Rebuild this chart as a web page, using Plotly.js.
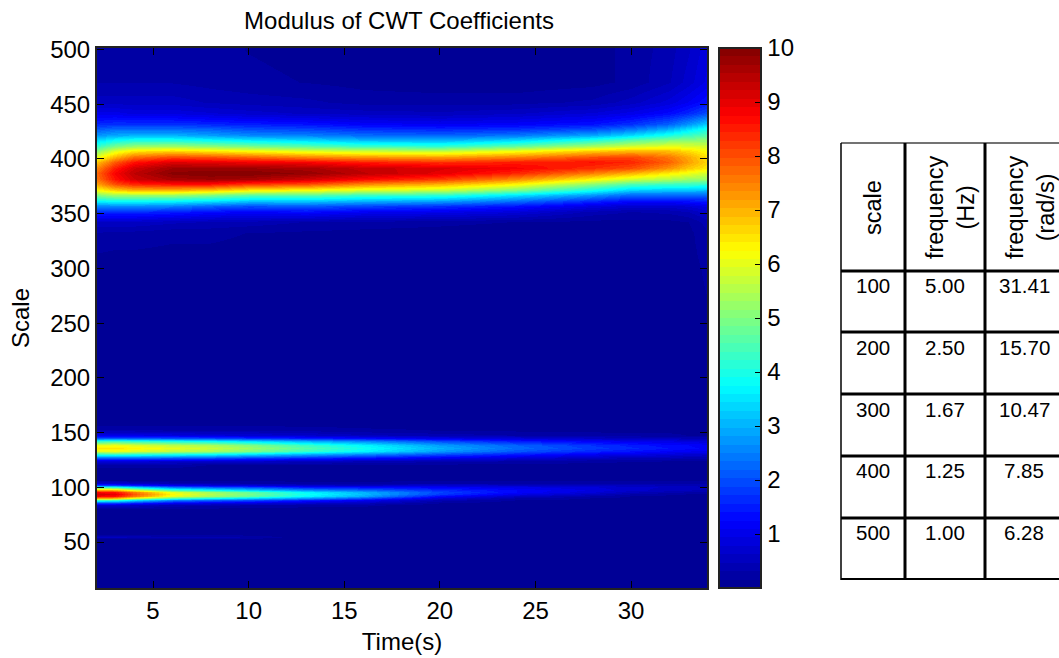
<!DOCTYPE html>
<html><head><meta charset="utf-8">
<script src="https://cdn.plot.ly/plotly-3.0.1.min.js"></script>
<style>html,body{margin:0;padding:0;background:#fff}#c{width:1059px;height:658px}</style>
</head><body><div id="c"></div>
<script>
const times = [2,3,4,6,8,10,13,16,20,24,28,30,32,33,34];
const scales = [8,50,53,55,57,70,80,84,86,88,90,92,94,96,98,100,102,104,107,112,120,124,127,130,133,136,139,142,145,148,152,158,200,300,332,342,352,357,362,367,372,377,382,387,392,397,402,407,412,417,422,427,432,442,452,470,500];
const modulus = [
[.05,.05,.05,.05,.05,.05,.05,.05,.05,.05,.05,.05,.05,.05,.05],
[.05,.05,.05,.05,.05,.05,.05,.05,.05,.05,.05,.05,.05,.05,.05],
[.08,.08,.08,.08,.08,.08,.05,.05,.05,.05,.05,.05,.05,.05,.05],
[.5,.5,.45,.4,.35,.3,.05,.05,.05,.05,.05,.05,.05,.05,.05],
[.08,.08,.08,.08,.08,.08,.05,.05,.05,.05,.05,.05,.05,.05,.05],
[.05,.05,.05,.05,.05,.05,.05,.05,.05,.05,.05,.05,.05,.05,.05],
[.15,.15,.15,.1,.1,.08,.05,.05,.05,.05,.05,.05,.05,.05,.05],
[.7,.7,.6,.4,.35,.3,.25,.2,.05,.05,.05,.05,.05,.05,.05],
[1.8,1.8,1.5,1.1,.9,.8,.65,.5,.15,.05,.05,.05,.05,.05,.05],
[4.3,4.2,3.5,2.5,2.2,2,1.5,1.1,.4,.15,.1,.05,.05,.05,.05],
[7.2,7,6,4.5,3.9,3.4,2.7,2,.8,.3,.15,.1,.05,.05,.05],
[8.8,8.6,7.6,6,5.3,4.7,3.7,2.9,1.3,.6,.3,.15,.1,.08,.05],
[9.2,9,7.9,6.3,5.5,4.9,3.9,3.1,1.8,1,.55,.3,.2,.15,.12],
[8.8,8.6,7.6,6,5.3,4.7,3.7,3,1.9,1.25,.8,.5,.35,.3,.25],
[7.2,7,6,4.5,3.9,3.4,2.7,2.3,1.65,1.25,.9,.68,.55,.48,.42],
[4.3,4.2,3.5,2.5,2.2,2,1.5,1.4,1.2,1,.8,.68,.6,.55,.5],
[1.8,1.8,1.5,1.1,.9,.8,.65,.6,.7,.6,.55,.5,.45,.42,.4],
[.7,.7,.6,.4,.35,.3,.25,.25,.3,.3,.3,.3,.3,.28,.25],
[.15,.15,.15,.1,.1,.1,.1,.1,.1,.1,.15,.15,.15,.15,.15],
[.05,.05,.05,.05,.05,.05,.05,.05,.05,.05,.05,.05,.05,.05,.05],
[.2,.2,.2,.2,.15,.15,.12,.12,.1,.08,.08,.05,.05,.05,.05],
[.8,.8,.8,.75,.7,.65,.55,.45,.35,.3,.2,.18,.15,.12,.12],
[2.1,2.1,2.1,2,1.9,1.7,1.5,1.3,1,.75,.5,.45,.4,.35,.35],
[4.2,4.3,4.2,4,3.8,3.5,3,2.6,2,1.5,1.1,1,.85,.75,.7],
[6,6.1,5.9,5.6,5.4,5,4.3,3.7,2.8,2.1,1.6,1.4,1.2,1.1,1.05],
[6.4,6.5,6.3,6,5.7,5.3,4.6,3.9,3,2.3,1.8,1.6,1.4,1.3,1.2],
[6,6.1,5.9,5.6,5.4,5,4.3,3.7,2.8,2.2,1.7,1.5,1.3,1.25,1.15],
[4.2,4.3,4.2,4,3.8,3.5,3,2.6,2,1.5,1.2,1.05,.95,.9,.8],
[2.1,2.1,2.1,2,1.9,1.7,1.5,1.3,1,.8,.6,.55,.5,.45,.4],
[.95,.95,.95,.9,.8,.75,.65,.5,.4,.3,.25,.2,.2,.15,.15],
[.35,.35,.35,.3,.3,.3,.25,.2,.15,.12,.1,.1,.1,.1,.1],
[.1,.1,.1,.1,.1,.1,.1,.08,.07,.05,.05,.05,.05,.05,.05],
[.05,.05,.05,.05,.05,.05,.05,.05,.05,.05,.05,.05,.05,.05,.05],
[.05,.05,.05,.05,.05,.05,.05,.05,.05,.05,.05,.05,.05,.08,.2],
[.3,.25,.25,.2,.2,.15,.12,.1,.08,.05,.05,.05,.05,.1,.3],
[.6,.6,.6,.5,.45,.4,.3,.25,.2,.15,.1,.1,.1,.15,.4],
[1.6,1.6,1.6,1.5,1.3,1.2,1.3,1.1,1,.8,.4,.3,.35,.45,.7],
[2.5,2.6,2.6,2.5,2.2,2,2.1,1.9,1.7,1.4,.9,.7,.7,.8,1],
[3.7,3.8,3.8,3.7,3.5,3.2,3.2,3,2.8,2.3,1.6,1.3,1.3,1.4,1.5],
[5,5.3,5.3,5.3,5,4.6,4.6,4.3,4.2,3.5,2.7,2.2,2.2,2.2,2.2],
[6.2,6.7,7,7,6.8,6.4,6.2,5.9,5.7,5,3.9,3.3,3.2,3.2,3.1],
[7.1,8,8.4,8.6,8.6,8.2,8,7.4,7,6.3,5.1,4.5,4.3,4.3,4.2],
[7.6,8.6,9.2,9.6,9.7,9.6,9.2,8.7,8.2,7.4,6.3,5.8,5.5,5.3,5.2],
[7.7,8.8,9.4,9.9,10,10,9.8,9.4,9,8.4,7.5,7,6.4,6.1,5.8],
[7.4,8.5,9.2,9.7,9.7,9.7,9.6,9.3,9.1,8.8,8.3,8,7.3,6.8,6.4],
[6.8,7.9,8.6,9.1,9,8.9,8.8,8.5,8.3,8.5,8.6,8.4,7.8,7.2,6.6],
[6,7,7.7,8.1,8,7.8,7.5,7.3,7.2,7.5,8,8.1,7.6,7.1,6.5],
[5.1,6,6.5,6.7,6.5,6.3,6,5.8,5.7,6.2,6.8,7,6.9,6.6,6.2],
[4.2,4.9,5.2,5.3,5.1,4.9,4.6,4.3,4.2,4.7,5.4,5.8,6,5.9,5.8],
[3.4,3.8,4,4,3.8,3.6,3.4,3.1,3,3.4,4.1,4.6,5,5.1,5.2],
[2.7,2.9,3,3,2.8,2.6,2.5,2.3,2.2,2.4,2.9,3.4,4,4.3,4.6],
[2.1,2.3,2.3,2.3,2.2,2,1.9,1.7,1.6,1.7,2,2.4,3,3.5,4],
[1.6,1.7,1.7,1.7,1.6,1.5,1.4,1.2,1.1,1.2,1.4,1.7,2.2,2.7,3.3],
[1,1,.9,.9,.8,.7,.6,.55,.5,.6,.8,1,1.3,1.6,2],
[.55,.55,.55,.55,.45,.4,.35,.25,.25,.25,.35,.55,.85,1.1,1.4],
[.3,.3,.3,.3,.25,.2,.15,.1,.05,.05,.1,.2,.45,.7,1],
[.3,.3,.3,.25,.2,.15,.1,.05,.05,.05,.1,.2,.4,.6,.9]
];
const xTicks = [5,10,15,20,25,30];
const yTicks = [50,100,150,200,250,300,350,400,450,500];
const barTicks = [1,2,3,4,5,6,7,8,9,10];
const jetStops = [[0,0,0,143],[.125,0,0,255],[.375,0,255,255],[.625,255,255,0],[.875,255,0,0],[1,128,0,0]];
const tableHead = ["scale","frequency<br>(Hz)","frequency<br>(rad/s)"];
const tableScale = ["100","200","300","400","500"];
const tableHz = ["5.00","2.50","1.67","1.25","1.00"];
const tableRad = ["31.41","15.70","10.47","7.85","6.28"];
const tableColX = [873,945,1024];
const tableRowY = [285,347,409,470,532];
const tableVLines = [841,905,985];
const tableHLines = [271,332,394,456,518,579];

const W=1059,H=658,L=97,R=707,T=48,B=588;
const px=x=>(x-L)/(R-L), py=y=>(B-y)/(B-T);
function jet(f){
  for(let i=1;i<jetStops.length;i++){
    if(f<=jetStops[i][0]){
      const a=jetStops[i-1],b=jetStops[i],t=(f-a[0])/(b[0]-a[0]);
      return 'rgb('+[1,2,3].map(k=>Math.round(a[k]+(b[k]-a[k])*t)).join(',')+')';
    }
  }
}
const LEVELS=64, colorscale=[];
for(let i=0;i<LEVELS;i++){
  const c=jet((i+.5)/LEVELS);
  colorscale.push([i/LEVELS,c]);
  colorscale.push([(i+1)/LEVELS,c]);
}
const FONT='"Liberation Sans", Arial, sans-serif';
const shapes=[], annotations=[];
barTicks.slice(0,-1).forEach(v=>shapes.push({type:'line',xref:'paper',yref:'paper',x0:px(719),x1:px(726),y0:v/10,y1:v/10,line:{color:'#000',width:1}}));
shapes.push({type:'line',xref:'paper',yref:'paper',x0:px(841),x1:px(W),y0:py(143),y1:py(143),line:{color:'#444',width:1.5}});
tableHLines.forEach((y,i)=>shapes.push({type:'line',xref:'paper',yref:'paper',x0:px(841),x1:px(W),y0:py(y),y1:py(y),line:{color:'#000',width:i==5?2:3}}));
tableVLines.forEach((x,i)=>shapes.push({type:'line',xref:'paper',yref:'paper',x0:px(x),x1:px(x),y0:py(143),y1:py(580),line:{color:'#000',width:i?3:1.5}}));
const note=(text,x,y,size,angle)=>annotations.push({text,xref:'paper',yref:'paper',x:px(x),y:py(y),xanchor:'center',yanchor:'middle',showarrow:false,textangle:angle||0,font:{family:FONT,size,color:'#000'}});
[873,950,1030].forEach((x,i)=>note(tableHead[i],x,208,23.5,-90));
[tableScale,tableHz,tableRad].forEach((col,c)=>col.forEach((t,r)=>note(t,tableColX[c],tableRowY[r],20.5)));

const axisBase={showgrid:false,zeroline:false,ticks:'inside',ticklen:7,tickwidth:1,tickcolor:'#000',showline:true,linecolor:'#222',linewidth:2,mirror:'ticks',tickfont:{family:FONT,size:24,color:'#000'}};
Plotly.newPlot('c',[{
  type:'heatmap',x:times,y:scales,z:modulus,zmin:0,zmax:10,zsmooth:'best',colorscale,
  colorbar:{x:px(719),xanchor:'left',xpad:0,y:.5,yanchor:'middle',ypad:0,len:1,lenmode:'fraction',thickness:42,thicknessmode:'pixels',
    outlinewidth:2,outlinecolor:'#222',borderwidth:0,tickmode:'array',tickvals:barTicks,ticktext:barTicks.map(String),ticks:'inside',ticklen:7,tickwidth:1,tickcolor:'#000',
    tickfont:{family:FONT,size:24,color:'#000'}}
}],{
  width:W,height:H,autosize:false,margin:{l:L,r:W-R,t:T,b:H-B,pad:0},paper_bgcolor:'#fff',plot_bgcolor:'#fff',
  title:{text:'Modulus of CWT Coefficients',x:px(399),xanchor:'center',xref:'paper',y:1-21/H,yanchor:'middle',yref:'container',font:{family:FONT,size:24,color:'#000'}},
  xaxis:Object.assign({},axisBase,{range:[2.07,33.97],tickvals:xTicks,ticklabelstandoff:0,title:{text:'Time(s)',standoff:10,font:{family:FONT,size:24,color:'#000'}}}),
  yaxis:Object.assign({},axisBase,{range:[8,501.4],tickvals:yTicks,title:{text:'Scale',standoff:14,font:{family:FONT,size:24,color:'#000'}}}),
  shapes,annotations,showlegend:false
},{displayModeBar:false,responsive:false});
</script></body></html>
